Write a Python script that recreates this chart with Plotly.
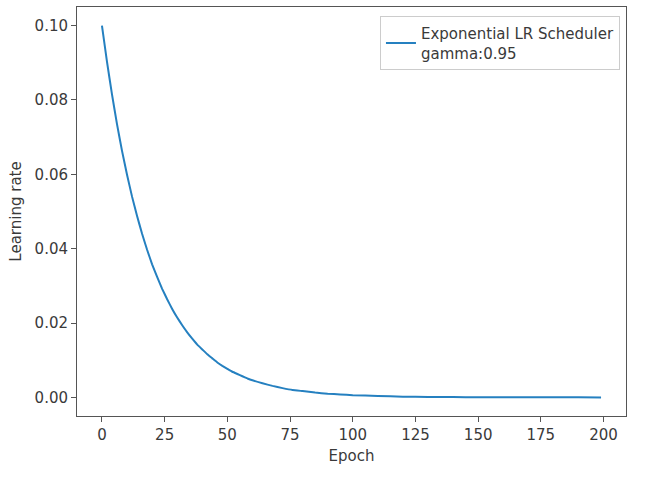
import plotly.graph_objects as go

# Learning rate (exponential scheduler, gamma 0.95)
epochs = [0, 2, 4, 6, 8, 10, 12, 14, 16, 18, 20, 22, 24, 26, 28, 30, 32, 34, 36, 38,
          40, 42, 44, 46, 48, 50, 52, 54, 56, 58, 60, 64, 68, 72, 76, 80, 85, 90, 95,
          100, 110, 120, 130, 140, 150, 160, 170, 180, 190, 199]
learning_rate = [0.1000, 0.0903, 0.0815, 0.0735, 0.0663, 0.0599, 0.0540, 0.0488, 0.0440, 0.0397,
                 0.0358, 0.0324, 0.0292, 0.0264, 0.0238, 0.0215, 0.0194, 0.0175, 0.0158, 0.0142,
                 0.0129, 0.0116, 0.0105, 0.0094, 0.0085, 0.0077, 0.0069, 0.0063, 0.0057, 0.0051,
                 0.0046, 0.0038, 0.0031, 0.0025, 0.0020, 0.0017, 0.0013, 0.0010, 0.0008,
                 0.0006, 0.0004, 0.0002, 0.0001, 0.0001, 0.00005, 0.00003, 0.00002, 0.00001,
                 0.00001, 0.000004]

x_ticks = [0, 25, 50, 75, 100, 125, 150, 175, 200]
y_ticks = [0.00, 0.02, 0.04, 0.06, 0.08, 0.10]

font = dict(family="DejaVu Sans", size=15, color="#3a3a3a")

fig = go.Figure()
fig.add_trace(go.Scatter(
    x=epochs,
    y=learning_rate,
    mode="lines",
    line=dict(color="#2580c0", width=2, shape="spline", smoothing=0.3),
    name="Exponential LR Scheduler<br>gamma:0.95",
))

axis_style = dict(
    showline=True, mirror=True, linecolor="#555555", linewidth=1,
    ticks="outside", ticklen=5, tickcolor="#555555",
    showgrid=False, zeroline=False, tickfont=font,
)

fig.update_layout(
    width=670, height=477,
    margin=dict(l=77, r=44, t=7, b=61),
    paper_bgcolor="white", plot_bgcolor="white",
    font=font,
    showlegend=True,
    legend=dict(
        x=0.989, y=0.978, xanchor="right", yanchor="top",
        bordercolor="#cccccc", borderwidth=1, bgcolor="white",
        font=font,
    ),
    xaxis=dict(axis_style, range=[-9.95, 208.95], tickvals=x_ticks,
               title=dict(text="Epoch", font=font, standoff=7)),
    yaxis=dict(axis_style, range=[-0.005, 0.105], tickvals=y_ticks, tickformat=".2f",
               title=dict(text="Learning rate", font=font, standoff=9)),
)

# page has a default 8px body margin, drop it so the plot sits at the corner
fig.write_html("out.html", config={"displayModeBar": False},
               post_script="document.body.style.margin='0px';")
